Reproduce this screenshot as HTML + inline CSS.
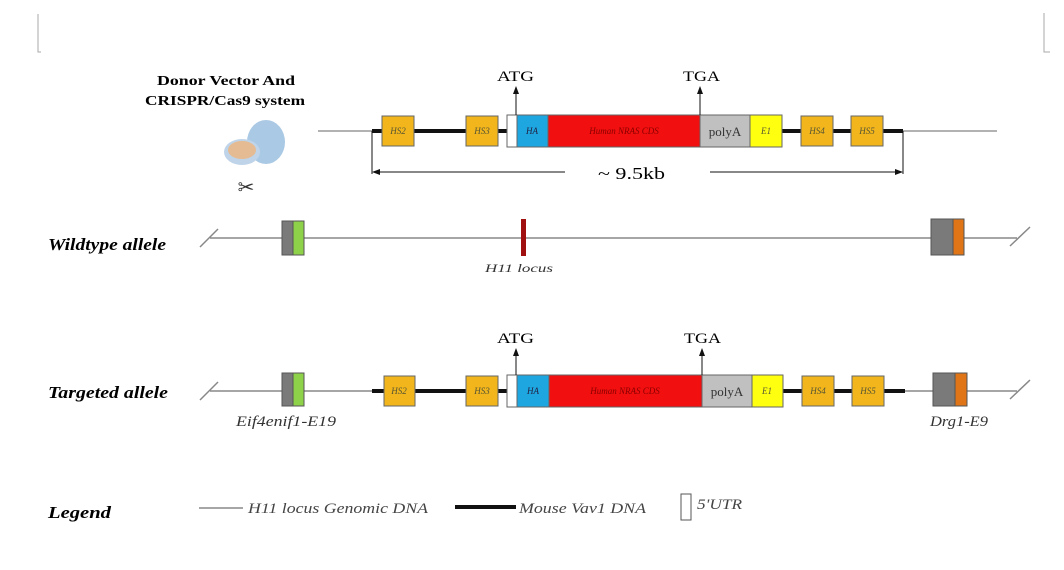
<!DOCTYPE html>
<html><head><meta charset="utf-8"><style>
html,body{margin:0;padding:0;background:#fff;}
svg{display:block;}
text{font-family:"Liberation Serif",serif;}
</style></head><body>
<svg width="1064" height="570" viewBox="0 0 1064 570" xmlns="http://www.w3.org/2000/svg">
<defs>
<marker id="ah" markerWidth="8" markerHeight="8" refX="7" refY="4" orient="auto" markerUnits="userSpaceOnUse"><path d="M0,1 L8,4 L0,7 Z" fill="#111"/></marker>
</defs>
<path d="M38,14 V52 H41" stroke="#aaa" fill="none"/>
<path d="M1044,13 V52 H1050" stroke="#aaa" fill="none"/>

<text x="157" y="85" font-size="14" font-weight="bold" textLength="138" lengthAdjust="spacingAndGlyphs">Donor Vector And</text>
<text x="145" y="105" font-size="14" font-weight="bold" textLength="160" lengthAdjust="spacingAndGlyphs">CRISPR/Cas9 system</text>
<g opacity="0.85">
<ellipse cx="266" cy="142" rx="19" ry="22" fill="#9cc0e0"/>
<ellipse cx="242" cy="152" rx="18" ry="13" fill="#b5cde6"/>
<ellipse cx="242" cy="150" rx="14" ry="9" fill="#e0b080"/>
</g>
<text x="246" y="194" font-size="20" text-anchor="middle" fill="#333">✂</text>

<line x1="318" y1="131" x2="997" y2="131" stroke="#999" stroke-width="1.5"/>
<line x1="372" y1="131" x2="903" y2="131" stroke="#111" stroke-width="4"/>
<g stroke="#666" stroke-width="1">
<rect x="382" y="116" width="32" height="30" fill="#f2b51c"/>
<rect x="466" y="116" width="32" height="30" fill="#f2b51c"/>
<rect x="507" y="115" width="10" height="32" fill="#fff"/>
<rect x="517" y="115" width="31" height="32" fill="#1ea6e0"/>
<rect x="548" y="115" width="152" height="32" fill="#f20f0f"/>
<rect x="700" y="115" width="50" height="32" fill="#c0c0c0"/>
<rect x="750" y="115" width="32" height="32" fill="#ffff10"/>
<rect x="801" y="116" width="32" height="30" fill="#f2b51c"/>
<rect x="851" y="116" width="32" height="30" fill="#f2b51c"/>
</g>
<g font-size="9" font-style="italic" fill="#553" text-anchor="middle">
<text x="398" y="134">HS2</text><text x="482" y="134">HS3</text><text x="532" y="134" fill="#224">HA</text>
<text x="624" y="134" fill="#800">Human NRAS CDS</text><text x="766" y="134">E1</text>
<text x="817" y="134">HS4</text><text x="867" y="134">HS5</text>
</g>
<text x="725" y="136" font-size="13" text-anchor="middle" fill="#333">polyA</text>
<line x1="516" y1="115" x2="516" y2="87" stroke="#111" marker-end="url(#ah)"/>
<line x1="700" y1="115" x2="700" y2="87" stroke="#111" marker-end="url(#ah)"/>
<text x="497" y="81" font-size="15" textLength="37" lengthAdjust="spacingAndGlyphs">ATG</text>
<text x="683" y="81" font-size="15" textLength="37" lengthAdjust="spacingAndGlyphs">TGA</text>
<line x1="372" y1="131" x2="372" y2="174" stroke="#111"/>
<line x1="903" y1="131" x2="903" y2="174" stroke="#111"/>
<line x1="565" y1="172" x2="373" y2="172" stroke="#111" marker-end="url(#ah)"/>
<line x1="710" y1="172" x2="902" y2="172" stroke="#111" marker-end="url(#ah)"/>
<text x="598" y="179" font-size="17" textLength="67" lengthAdjust="spacingAndGlyphs">~ 9.5kb</text>

<text x="48" y="250" font-size="17" font-weight="bold" font-style="italic" textLength="118" lengthAdjust="spacingAndGlyphs">Wildtype allele</text>
<line x1="210" y1="238" x2="1017" y2="238" stroke="#888" stroke-width="1.5"/>
<line x1="200" y1="247" x2="218" y2="229" stroke="#888" stroke-width="1.5"/>
<line x1="1010" y1="246" x2="1030" y2="227" stroke="#888" stroke-width="1.5"/>
<rect x="282" y="221" width="11" height="34" fill="#7a7a7a" stroke="#555"/>
<rect x="293" y="221" width="11" height="34" fill="#8ed24a" stroke="#555"/>
<rect x="521" y="219" width="5" height="37" fill="#a01010"/>
<text x="485" y="272" font-size="12" font-style="italic" textLength="68" lengthAdjust="spacingAndGlyphs" fill="#333">H11 locus</text>
<rect x="931" y="219" width="22" height="36" fill="#7a7a7a" stroke="#555"/>
<rect x="953" y="219" width="11" height="36" fill="#e07518" stroke="#555"/>

<text x="48" y="398" font-size="17" font-weight="bold" font-style="italic" textLength="120" lengthAdjust="spacingAndGlyphs">Targeted allele</text>
<line x1="210" y1="391" x2="1017" y2="391" stroke="#888" stroke-width="1.5"/>
<line x1="200" y1="400" x2="218" y2="382" stroke="#888" stroke-width="1.5"/>
<line x1="1010" y1="399" x2="1030" y2="380" stroke="#888" stroke-width="1.5"/>
<rect x="282" y="373" width="11" height="33" fill="#7a7a7a" stroke="#555"/>
<rect x="293" y="373" width="11" height="33" fill="#8ed24a" stroke="#555"/>
<line x1="372" y1="391" x2="905" y2="391" stroke="#111" stroke-width="4"/>
<g stroke="#666" stroke-width="1">
<rect x="384" y="376" width="31" height="30" fill="#f2b51c"/>
<rect x="466" y="376" width="32" height="30" fill="#f2b51c"/>
<rect x="507" y="375" width="10" height="32" fill="#fff"/>
<rect x="517" y="375" width="32" height="32" fill="#1ea6e0"/>
<rect x="549" y="375" width="153" height="32" fill="#f20f0f"/>
<rect x="702" y="375" width="50" height="32" fill="#c0c0c0"/>
<rect x="752" y="375" width="31" height="32" fill="#ffff10"/>
<rect x="802" y="376" width="32" height="30" fill="#f2b51c"/>
<rect x="852" y="376" width="32" height="30" fill="#f2b51c"/>
</g>
<g font-size="9" font-style="italic" fill="#553" text-anchor="middle">
<text x="399" y="394">HS2</text><text x="482" y="394">HS3</text><text x="533" y="394" fill="#224">HA</text>
<text x="625" y="394" fill="#800">Human NRAS CDS</text><text x="767" y="394">E1</text>
<text x="818" y="394">HS4</text><text x="868" y="394">HS5</text>
</g>
<text x="727" y="396" font-size="13" text-anchor="middle" fill="#333">polyA</text>
<line x1="516" y1="375" x2="516" y2="349" stroke="#111" marker-end="url(#ah)"/>
<line x1="702" y1="375" x2="702" y2="349" stroke="#111" marker-end="url(#ah)"/>
<text x="497" y="343" font-size="15" textLength="37" lengthAdjust="spacingAndGlyphs">ATG</text>
<text x="684" y="343" font-size="15" textLength="37" lengthAdjust="spacingAndGlyphs">TGA</text>
<rect x="933" y="373" width="22" height="33" fill="#7a7a7a" stroke="#555"/>
<rect x="955" y="373" width="12" height="33" fill="#e07518" stroke="#555"/>
<text x="236" y="426" font-size="15" font-style="italic" textLength="100" lengthAdjust="spacingAndGlyphs" fill="#333">Eif4enif1-E19</text>
<text x="930" y="426" font-size="15" font-style="italic" textLength="58" lengthAdjust="spacingAndGlyphs" fill="#333">Drg1-E9</text>

<text x="48" y="518" font-size="17" font-weight="bold" font-style="italic" textLength="63" lengthAdjust="spacingAndGlyphs">Legend</text>
<line x1="199" y1="508" x2="243" y2="508" stroke="#888" stroke-width="1.5"/>
<text x="248" y="513" font-size="15" font-style="italic" fill="#444" textLength="180" lengthAdjust="spacingAndGlyphs">H11 locus Genomic DNA</text>
<line x1="455" y1="507" x2="516" y2="507" stroke="#111" stroke-width="4"/>
<text x="519" y="513" font-size="15" font-style="italic" fill="#444" textLength="127" lengthAdjust="spacingAndGlyphs">Mouse Vav1 DNA</text>
<rect x="681" y="494" width="10" height="26" fill="#fff" stroke="#555"/>
<text x="697" y="509" font-size="15" font-style="italic" fill="#444" textLength="45" lengthAdjust="spacingAndGlyphs">5'UTR</text>
</svg>
</body></html>
